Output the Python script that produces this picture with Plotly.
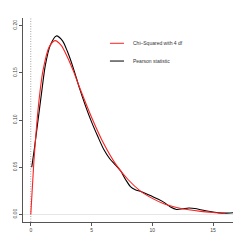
import plotly.graph_objects as go

# Chi-squared (4 df) density
chi_x = [0, 0.25, 0.5, 0.75, 1, 1.5, 2, 2.5, 3, 3.5, 4, 5, 6, 7, 8, 9, 10, 11, 12, 13, 14, 15, 16]
chi_y = [0, 0.055, 0.097, 0.129, 0.152, 0.177, 0.184, 0.179, 0.167, 0.152, 0.135, 0.103, 0.075,
         0.053, 0.037, 0.025, 0.017, 0.011, 0.0074, 0.0049, 0.0032, 0.0021, 0.0013]

# Pearson statistic density (kernel estimate)
pear_x = [0.08, 0.3, 0.5, 0.9, 1.2, 1.6, 2.1, 2.6, 3, 3.5, 4, 4.5, 5, 5.5, 6, 6.5, 7, 7.4, 7.8,
          8.2, 8.6, 9, 9.5, 10, 10.5, 11, 11.5, 12, 12.5, 13, 13.5, 14, 14.5, 15, 15.5, 16, 16.7]
pear_y = [0.05, 0.07, 0.09, 0.13, 0.158, 0.179, 0.189, 0.184, 0.173, 0.155, 0.134, 0.115, 0.098,
          0.083, 0.069, 0.059, 0.052, 0.046, 0.037, 0.0295, 0.0262, 0.0245, 0.022, 0.019, 0.016,
          0.0125, 0.0078, 0.0053, 0.006, 0.0068, 0.0063, 0.005, 0.0036, 0.0025, 0.0017, 0.0014, 0.0019]

x_ticks = [0, 5, 10, 15]
y_ticks = [0.00, 0.05, 0.10, 0.15, 0.20]
y_tick_labels = ["0.00", "0.05", "0.10", "0.15", "0.20"]
x_range = [-0.64, 16.64]
y_range = [-0.008, 0.208]
ref_x = 0
ref_y = 0
legend_labels = ["Chi–Squared with 4 df", "Pearson statistic"]
legend_colors = ["#ff2020", "#000000"]

fig = go.Figure()
fig.add_shape(type="line", xref="paper", x0=0, x1=1, yref="y", y0=ref_y, y1=ref_y,
              line=dict(color="#e6e6e6", width=1), layer="below")
fig.add_shape(type="line", xref="x", x0=ref_x, x1=ref_x, yref="paper", y0=0, y1=1,
              line=dict(color="#8a8a8a", width=0.8, dash="1px,1.5px"), layer="below")

fig.add_trace(go.Scatter(x=pear_x, y=pear_y, mode="lines",
                         line=dict(color="#000000", width=1.1, shape="spline", smoothing=0.8),
                         name=legend_labels[1]))
fig.add_trace(go.Scatter(x=chi_x, y=chi_y, mode="lines",
                         line=dict(color="#ff2020", width=1.1, shape="spline", smoothing=0.8),
                         name=legend_labels[0]))

# legend drawn manually
leg_y = [0.876, 0.789]
for lab, col, ly in zip(legend_labels, legend_colors, leg_y):
    fig.add_shape(type="line", xref="paper", yref="paper", x0=0.414, x1=0.481, y0=ly, y1=ly,
                  line=dict(color=col, width=1))
    fig.add_annotation(xref="paper", yref="paper", x=0.512, y=ly, text=lab, showarrow=False,
                       xanchor="left", yanchor="middle", font=dict(size=5, color="#333333"))

axis_common = dict(showgrid=False, zeroline=False, showline=True, linecolor="#555555", linewidth=1,
                   ticks="outside", ticklen=3, tickcolor="#555555", tickwidth=1, automargin=False,
                   tickfont=dict(size=5, color="#444444"))
fig.update_xaxes(range=x_range, tickvals=x_ticks, ticktext=[str(v) for v in x_ticks], **axis_common)
fig.update_yaxes(range=y_range, tickvals=y_ticks, ticktext=y_tick_labels, tickangle=-90, **axis_common)

fig.update_layout(width=245, height=245, margin=dict(l=23, r=12, t=18, b=23),
                  paper_bgcolor="white", plot_bgcolor="white", showlegend=False,
                  font=dict(family="Liberation Sans, Arial, sans-serif"))
fig.write_html("out.html", config={"displayModeBar": False, "staticPlot": True},
               post_script="document.body.style.margin='0';")
